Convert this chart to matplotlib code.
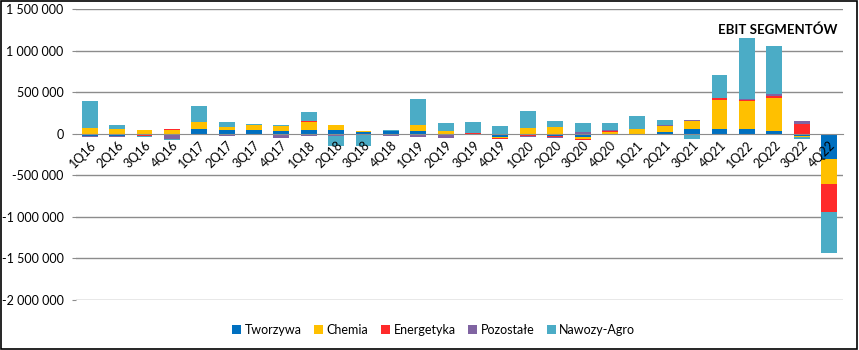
import numpy as np
import matplotlib
matplotlib.use('Agg')
import matplotlib.pyplot as plt
from matplotlib.ticker import FuncFormatter, MultipleLocator
from matplotlib.patches import Rectangle

plt.rcParams['font.family'] = ['Lato', 'DejaVu Sans']

quarters = ['1Q16', '2Q16', '3Q16', '4Q16', '1Q17', '2Q17', '3Q17', '4Q17',
            '1Q18', '2Q18', '3Q18', '4Q18', '1Q19', '2Q19', '3Q19', '4Q19',
            '1Q20', '2Q20', '3Q20', '4Q20', '1Q21', '2Q21', '3Q21', '4Q21',
            '1Q22', '2Q22', '3Q22', '4Q22']

# values in thousands PLN
tworzywa = [-28, -28, -12, 0, 52, 40, 40, 28, 40, 40, 16, 28, 28, 0,
            0, -40, -12, -32, -40, -12, 0, 16, 52, 52, 52, 28, -28, -304]
chemia = [64, 52, 40, 40, 84, 36, 60, 60, 96, 60, 12, 0, 72, 28,
          0, -12, 64, 76, -20, 24, 52, 72, 96, 356, 344, 404, -12, -300]
energetyka = [0, 0, -12, 12, 0, -10, 4, -10, 12, 0, 0, 0, -5, -12,
              12, -6, -16, -8, -16, 12, 0, 0, 10, 24, 12, 24, 112, -340]
pozostale = [-12, -10, 0, -64, -8, -14, -15, -45, -28, -28, -4, -28, -40, -44,
             -20, 0, -12, -16, 16, 12, -10, 12, 10, -10, 12, 24, 36, 0]
nawozy = [332, 56, -12, -12, 200, 68, 12, 12, 116, -120, -148, 12, 320, 96,
          124, 88, 212, 80, 116, 80, 164, 68, -64, 276, 732, 576, -24, -486]

series = [
    ('Tworzywa', tworzywa, '#0070C0'),
    ('Chemia', chemia, '#FFC000'),
    ('Energetyka', energetyka, '#FF2A2A'),
    ('Pozostałe', pozostale, '#8064A2'),
    ('Nawozy-Agro', nawozy, '#4BACC6'),
]

fig = plt.figure(figsize=(8.59, 3.5), dpi=100)
ax = fig.add_axes([0.0885, 0.143, 0.8925, 0.831])

x = np.arange(len(quarters))
pos = np.zeros(len(quarters))
neg = np.zeros(len(quarters))
for name, vals, col in series:
    v = np.array(vals) * 1000.0
    bottom = np.where(v >= 0, pos, neg)
    ax.bar(x, v, bottom=bottom, width=0.58, color=col, label=name, zorder=1)
    pos = pos + np.where(v >= 0, v, 0)
    neg = neg + np.where(v < 0, v, 0)

ax.set_xlim(-0.5, len(quarters) - 0.5)
ax.set_ylim(-2000000, 1500000)
ax.yaxis.set_major_locator(MultipleLocator(500000))
ax.yaxis.set_major_formatter(FuncFormatter(lambda v, p: f"{int(v):,}".replace(',', ' ')))
# gridlines drawn under the bars, tick labels stay on top
for yv in ax.get_yticks():
    if yv != 0:
        ax.axhline(yv, color='#8c8c8c', linewidth=1, zorder=0)

for s in ['top', 'right', 'left']:
    ax.spines[s].set_visible(False)
ax.spines['bottom'].set_position(('data', 0))
ax.spines['bottom'].set_color('#8c8c8c')
ax.xaxis.set_zorder(3)

ax.set_xticks(x)
ax.set_xticklabels(quarters, rotation=45, ha='right', rotation_mode='anchor', fontsize=9)
ax.tick_params(axis='x', length=0, pad=4)
ax.tick_params(axis='y', length=3, color='#8c8c8c', labelsize=9, pad=6)

fig.text(0.905, 0.915, 'EBIT SEGMENTÓW', fontsize=9.5, fontweight='bold', ha='center', va='center')

handles, labels = ax.get_legend_handles_labels()
fig.legend(handles, labels, loc='center', bbox_to_anchor=(0.505, 0.058), ncol=5, frameon=False,
           fontsize=9, handlelength=0.7, handleheight=0.7, handletextpad=0.3, columnspacing=1.0)

fig.patches.append(Rectangle((0.001, 0.004), 0.997, 0.994, transform=fig.transFigure,
                             fill=False, edgecolor='black', linewidth=1.2))

fig.savefig('out.png', dpi=100)
